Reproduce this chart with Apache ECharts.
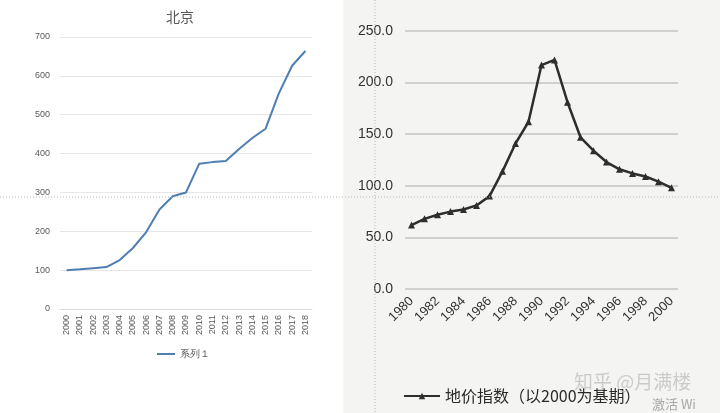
<!DOCTYPE html>
<html>
<head>
<meta charset="utf-8">
<script src="https://cdn.jsdelivr.net/npm/echarts@6/dist/echarts.min.js"></script>
<style>
  html, body { margin: 0; padding: 0; background: #fff; }
  #main { width: 720px; height: 413px; }
</style>
</head>
<body>
<div id="main"></div>
<script>
// 左图：北京
const bjYears = ['2000','2001','2002','2003','2004','2005','2006','2007','2008','2009',
                 '2010','2011','2012','2013','2014','2015','2016','2017','2018'];
const bjValues = [100, 102, 105, 108, 126, 157, 198, 256, 290, 300,
                  374, 378, 381, 412, 440, 464, 555, 626, 664];

// 右图：地价指数（以2000为基期）
const landYears = ['1980','1981','1982','1983','1984','1985','1986','1987','1988','1989','1990',
                   '1991','1992','1993','1994','1995','1996','1997','1998','1999','2000'];
const landValues = [62, 68, 72, 75, 77, 81, 90, 114, 141, 162, 217,
                    222, 181, 147, 134, 123, 116, 112, 109, 104, 98];

const chart = echarts.init(document.getElementById('main'));

const option = {
    backgroundColor: '#fff',
    animation: false,
    title: {
        text: '北京',
        left: 175,
        top: 5,
        textAlign: 'center',
        textStyle: { fontSize: 14, fontWeight: 'normal', color: '#595959', fontFamily: 'Noto Sans CJK SC' }
    },
    graphic: [
        // 右侧扫描图的底色
        { type: 'rect', z: -10, shape: { x: 343, y: 0, width: 377, height: 413 }, style: { fill: '#f4f4f2' } },
        // 截图辅助虚线
        { type: 'line', z: 50, shape: { x1: 375, y1: 0, x2: 375, y2: 413 }, style: { stroke: '#b8b8b8', lineWidth: 1, lineDash: [1, 2] } },
        { type: 'line', z: 50, shape: { x1: 0, y1: 197, x2: 720, y2: 197 }, style: { stroke: '#b8b8b8', lineWidth: 1, lineDash: [1, 2] } },
        // 水印
        { type: 'text', z: 60, left: 574, top: 372, style: { text: '知乎 @月满楼', fontSize: 19, fill: 'rgba(190,190,190,0.75)', fontFamily: 'Noto Sans CJK SC' } },
        { type: 'text', z: 60, left: 652, top: 398, style: { text: '激活 Wi', fontSize: 13, fill: '#a8a8a8', fontFamily: 'Noto Sans CJK SC' } }
    ],
    legend: [
        {
            data: ['系列１'],
            left: 152,
            top: 344,
            itemWidth: 18,
            itemHeight: 2,
            icon: 'rect',
            textStyle: { fontSize: 10, color: '#595959' }
        },
        {
            data: ['地价指数（以2000为基期）'],
            left: 398,
            top: 383,
            itemWidth: 36,
            itemHeight: 8,
            textStyle: { fontSize: 16, color: '#2a2a2a', fontFamily: 'Noto Sans CJK SC' }
        }
    ],
    grid: [
        { left: 60, right: 408, top: 37, bottom: 104 },
        { left: 405, right: 42, top: 31, bottom: 124 }
    ],
    xAxis: [
        {
            type: 'category',
            gridIndex: 0,
            data: bjYears,
            boundaryGap: true,
            axisLine: { lineStyle: { color: '#d9d9d9' } },
            axisTick: { show: false },
            axisLabel: { rotate: 90, fontSize: 9, color: '#595959', interval: 0, margin: 6 }
        },
        {
            type: 'category',
            gridIndex: 1,
            data: landYears,
            boundaryGap: true,
            axisLine: { show: false },
            axisTick: { show: false },
            axisLabel: { rotate: 45, fontSize: 13, color: '#333', interval: 1, margin: 10 }
        }
    ],
    yAxis: [
        {
            type: 'value',
            gridIndex: 0,
            min: 0,
            max: 700,
            interval: 100,
            axisLine: { show: false },
            axisTick: { show: false },
            axisLabel: { fontSize: 9, color: '#595959', margin: 10 },
            splitLine: { lineStyle: { color: '#e6e6e6' } }
        },
        {
            type: 'value',
            gridIndex: 1,
            min: 0,
            max: 250,
            interval: 50,
            axisLine: { show: false },
            axisTick: { show: false },
            axisLabel: { fontSize: 14, color: '#333', margin: 12, formatter: v => v.toFixed(1) },
            splitLine: { lineStyle: { color: '#c4c4c4', width: 1.5 } }
        }
    ],
    series: [
        {
            name: '系列１',
            type: 'line',
            xAxisIndex: 0,
            yAxisIndex: 0,
            data: bjValues,
            symbol: 'none',
            lineStyle: { color: '#4f7eb3', width: 2 },
            itemStyle: { color: '#4f7eb3' }
        },
        {
            name: '地价指数（以2000为基期）',
            type: 'line',
            xAxisIndex: 1,
            yAxisIndex: 1,
            data: landValues,
            symbol: 'triangle',
            symbolSize: 7,
            lineStyle: { color: '#2e2e2e', width: 2.5 },
            itemStyle: { color: '#2e2e2e' }
        }
    ]
};

chart.setOption(option);
</script>
</body>
</html>
